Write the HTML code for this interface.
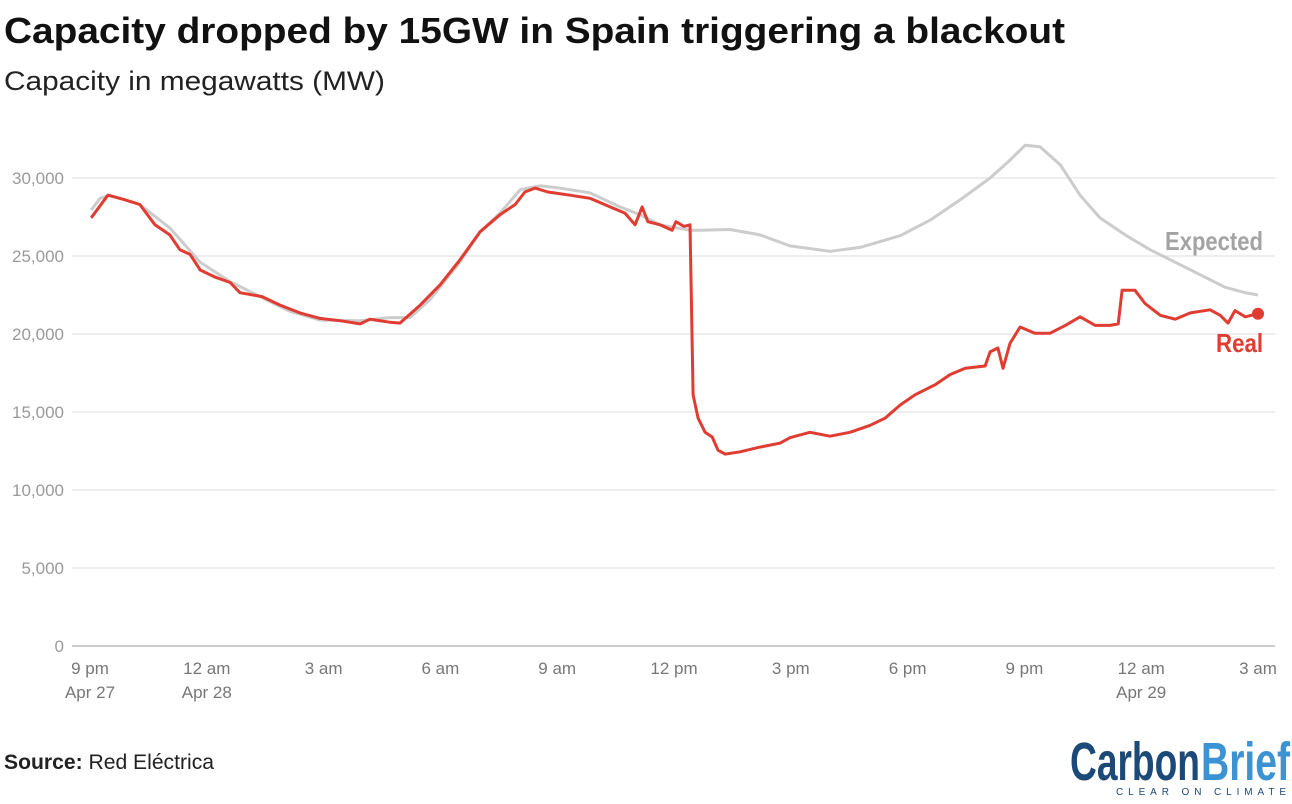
<!DOCTYPE html>
<html><head><meta charset="utf-8"><style>
body{margin:0;background:#fff;font-family:"Liberation Sans",sans-serif;}
#wrap{position:relative;width:1292px;height:804px;overflow:hidden;}
</style></head><body>
<div id="wrap">
<svg width="1292" height="110" style="position:absolute;left:0;top:0;">
<text x="4" y="43" font-size="36" font-weight="bold" fill="#111" font-family="Liberation Sans, sans-serif" textLength="1061" lengthAdjust="spacingAndGlyphs">Capacity dropped by 15GW in Spain triggering a blackout</text>
<text x="4" y="90" font-size="27" fill="#222" font-family="Liberation Sans, sans-serif" textLength="381" lengthAdjust="spacingAndGlyphs">Capacity in megawatts (MW)</text>
</svg>
<svg id="chart" width="1292" height="720" style="position:absolute;left:0;top:0;"></svg>
<svg width="1292" height="84" style="position:absolute;left:0;top:720px;">
<text x="4" y="49" font-size="21" fill="#222" font-family="Liberation Sans, sans-serif" textLength="210" lengthAdjust="spacingAndGlyphs"><tspan font-weight="bold">Source:</tspan> Red Eléctrica</text>
<g>
<text x="1070" y="60" font-size="54" font-weight="bold" fill="#1b4a78" font-family="Liberation Sans, sans-serif" textLength="130" lengthAdjust="spacingAndGlyphs">Carbon</text>
<text x="1201" y="60" font-size="54" font-weight="bold" fill="#3b93d3" font-family="Liberation Sans, sans-serif" textLength="89" lengthAdjust="spacingAndGlyphs">Brief</text>
<text x="1116" y="75" font-size="10" fill="#1b4a78" font-family="Liberation Sans, sans-serif" textLength="170" lengthAdjust="spacing">CLEAR ON CLIMATE</text>
</g>
</svg>
</div>
<script>
const yTicks=[0,5000,10000,15000,20000,25000,30000];
const xTickHours=[0,3,6,9,12,15,18,21,24,27,30];
const xTickLabels=["9 pm","12 am","3 am","6 am","9 am","12 pm","3 pm","6 pm","9 pm","12 am","3 am"];
const xTickSub=["Apr 27","Apr 28","","","","","","","","Apr 29",""];
const realHours=[0.03,0.46,0.90,1.28,1.67,2.05,2.31,2.57,2.83,3.21,3.60,3.85,4.42,4.88,5.39,5.91,6.42,6.94,7.19,7.71,7.96,8.48,8.99,9.50,10.02,10.53,10.92,11.17,11.43,11.76,12.33,12.84,13.36,13.74,14.00,14.18,14.33,14.64,14.95,15.05,15.26,15.41,15.49,15.62,15.80,15.98,16.13,16.31,16.70,17.21,17.72,17.98,18.49,19.01,19.52,20.04,20.42,20.81,21.19,21.71,22.09,22.48,22.99,23.12,23.32,23.45,23.63,23.89,24.27,24.66,25.05,25.43,25.82,26.20,26.41,26.51,26.84,27.10,27.49,27.87,28.26,28.77,29.03,29.23,29.41,29.67,30.00];
const realValues=[27450,28900,28600,28300,27000,26350,25400,25100,24100,23650,23300,22650,22400,21850,21350,21000,20850,20650,20950,20750,20700,21850,23150,24750,26550,27650,28300,29100,29350,29100,28900,28700,28150,27750,27000,28150,27200,27000,26650,27200,26900,27000,16100,14600,13700,13400,12550,12300,12450,12750,13000,13350,13700,13450,13700,14150,14600,15450,16100,16750,17400,17800,17950,18850,19100,17800,19400,20450,20050,20050,20550,21100,20550,20550,20650,22800,22800,21950,21200,20950,21350,21550,21200,20700,21500,21100,21300];
const expHours=[0.03,0.26,0.51,1.28,2.05,2.83,3.60,4.37,5.14,5.91,6.94,7.71,8.22,8.73,9.50,10.02,10.53,11.05,11.56,12.07,12.84,13.61,14.13,14.64,15.41,15.67,16.44,17.21,17.98,19.01,19.78,20.81,21.58,22.35,23.12,23.63,24.02,24.40,24.92,25.43,25.94,26.59,27.23,27.87,28.51,29.15,29.67,30.00];
const expValues=[27950,28700,28900,28300,26800,24600,23350,22400,21450,20900,20850,21050,21050,22200,24600,26550,27750,29250,29500,29350,29050,28150,27650,27000,26650,26650,26700,26350,25650,25300,25550,26300,27300,28600,30000,31150,32100,32000,30850,28900,27450,26350,25400,24600,23800,23000,22650,22500];

const NS="http://www.w3.org/2000/svg";
const svg=document.getElementById('chart');
const X0=90,X1=1258,Y0=646,Y1=178;
const xs=h=>X0+(X1-X0)*h/30;
const ys=v=>Y0-(Y0-Y1)*v/30000;
function mk(t,a){const e=document.createElementNS(NS,t);for(const k in a)e.setAttribute(k,a[k]);svg.appendChild(e);return e;}
yTicks.forEach(v=>{
  const g=mk('line',{x1:72,x2:1275,y1:ys(v),y2:ys(v),stroke:v===0?'#bbb':'#e3e3e3','stroke-width':v===0?1.5:1.3});
  
  
  const t=mk('text',{x:64,y:ys(v)+6,'text-anchor':'end','font-size':17,fill:'#9a9a9a','font-family':'Liberation Sans, sans-serif'});
  t.textContent=v.toLocaleString('en-US');
  
  
});
xTickHours.forEach((h,i)=>{
  const t=mk('text',{x:xs(h),y:674,'text-anchor':'middle','font-size':17,fill:'#777','font-family':'Liberation Sans, sans-serif'});
  t.textContent=xTickLabels[i];
  
  
  if(xTickSub[i]){const s=mk('text',{x:xs(h),y:698,'text-anchor':'middle','font-size':17,fill:'#777','font-family':'Liberation Sans, sans-serif'});
  s.textContent=xTickSub[i];
  
  }
});
function path(hs,vs){return hs.map((h,i)=>(i?'L':'M')+xs(h).toFixed(1)+','+ys(vs[i]).toFixed(1)).join('');}
const pe=mk('path',{d:path(expHours,expValues),fill:'none',stroke:'#cccccc','stroke-width':3,'stroke-linejoin':'round'});


const pr=mk('path',{d:path(realHours,realValues),fill:'none',stroke:'#e03c31','stroke-width':3,'stroke-linejoin':'round'});


const li=realHours.length-1;
const dot=mk('circle',{cx:xs(realHours[li]),cy:ys(realValues[li]),r:6,fill:'#e03c31'});


const le=mk('text',{x:1165,y:250,'font-size':26,'font-weight':'bold',fill:'#a3a3a3','font-family':'Liberation Sans, sans-serif',textLength:98,lengthAdjust:'spacingAndGlyphs'});
le.textContent='Expected';


const lr=mk('text',{x:1216,y:352,'font-size':26,'font-weight':'bold',fill:'#e03c31','font-family':'Liberation Sans, sans-serif',textLength:47,lengthAdjust:'spacingAndGlyphs'});
lr.textContent='Real';


</script>
</body></html>
